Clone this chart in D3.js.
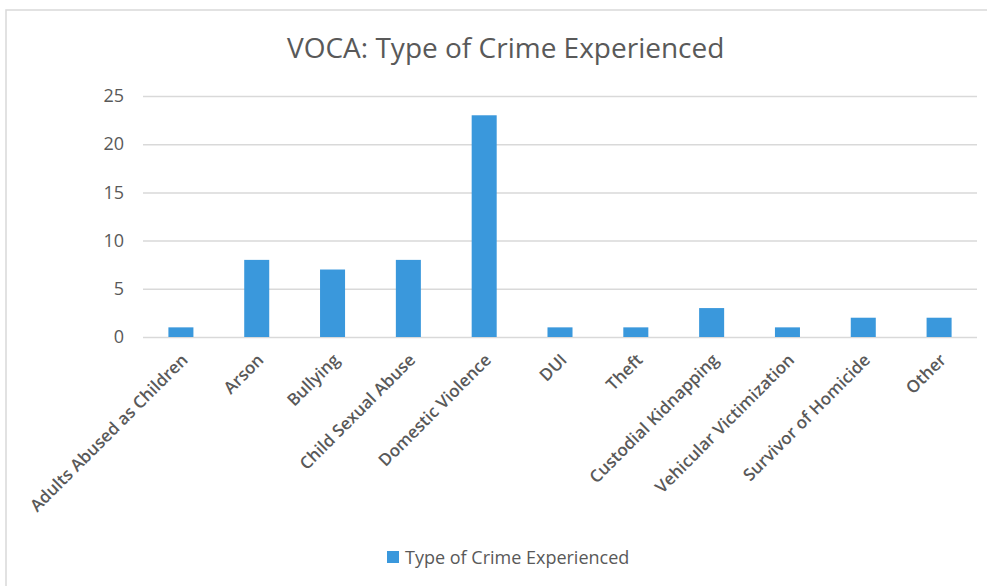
<!DOCTYPE html>
<html>
<head>
<meta charset="utf-8">
<script src="https://cdn.jsdelivr.net/npm/d3@7/dist/d3.min.js"></script>
<style>
  html, body { margin: 0; padding: 0; background: #fff; }
  svg { display: block; }
  text { font-family: "Open Sans", "Noto Sans", sans-serif; fill: #595959; }
</style>
</head>
<body>
<svg id="chart" width="987" height="586"></svg>
<script>
const categories = ["Adults Abused as Children", "Arson", "Bullying", "Child Sexual Abuse",
  "Domestic Violence", "DUI", "Theft", "Custodial Kidnapping", "Vehicular Victimization",
  "Survivor of Homicide", "Other"];
const values = [1, 8, 7, 8, 23, 1, 1, 3, 1, 2, 2];
const yTicks = [0, 5, 10, 15, 20, 25];
const title = "VOCA: Type of Crime Experienced";
const seriesName = "Type of Crime Experienced";

const svg = d3.select("#chart");
const plot = { left: 143, right: 977, top: 96, bottom: 337 };

// frame
svg.append("rect").attr("x", 6).attr("y", 10).attr("width", 1100).attr("height", 700)
  .attr("fill", "none").attr("stroke", "#d9d9d9").attr("stroke-width", 1.5);

const x = d3.scaleBand().domain(categories).range([plot.left, plot.right])
  .paddingInner(0.67).paddingOuter(0.335);
const y = d3.scaleLinear().domain([0, 25]).range([plot.bottom, plot.top]);

// gridlines + y labels
const yAxis = d3.axisLeft(y).tickValues(yTicks).tickSize(-(plot.right - plot.left)).tickPadding(19);
const gy = svg.append("g").attr("transform", `translate(${plot.left},0)`).call(yAxis);
gy.select(".domain").remove();
gy.selectAll(".tick line").attr("stroke", "#d9d9d9").attr("stroke-width", 1.5);
gy.selectAll(".tick text").attr("font-size", 18).attr("fill", "#595959")
  .style("font-family", "'Open Sans', sans-serif");

// bars
svg.append("g").selectAll("rect").data(values).join("rect")
  .attr("x", (d, i) => x(categories[i]))
  .attr("y", d => y(d))
  .attr("width", x.bandwidth())
  .attr("height", d => y(0) - y(d))
  .attr("fill", "#3a98dc");

// x axis labels
const xAxis = d3.axisBottom(x).tickSize(0).tickPadding(0);
const gx = svg.append("g").attr("transform", `translate(0,${plot.bottom})`).call(xAxis);
gx.select(".domain").remove();
gx.selectAll(".tick text")
  .attr("font-size", 17).attr("fill", "#4a4a4a").attr("font-weight", 600)
  .style("font-family", "'Open Sans', sans-serif")
  .attr("text-anchor", "end")
  .attr("dy", null).attr("y", 0)
  .attr("transform", "translate(8,24) rotate(-45)");

// title
svg.append("text").attr("x", 287).attr("y", 58).attr("text-anchor", "start")
  .attr("font-size", 28).text(title);

// legend
const lg = svg.append("g");
lg.append("rect").attr("x", 387).attr("y", 551).attr("width", 12).attr("height", 12).attr("fill", "#3a98dc");
lg.append("text").attr("x", 405).attr("y", 564).attr("font-size", 18).text(seriesName);
</script>
</body>
</html>
